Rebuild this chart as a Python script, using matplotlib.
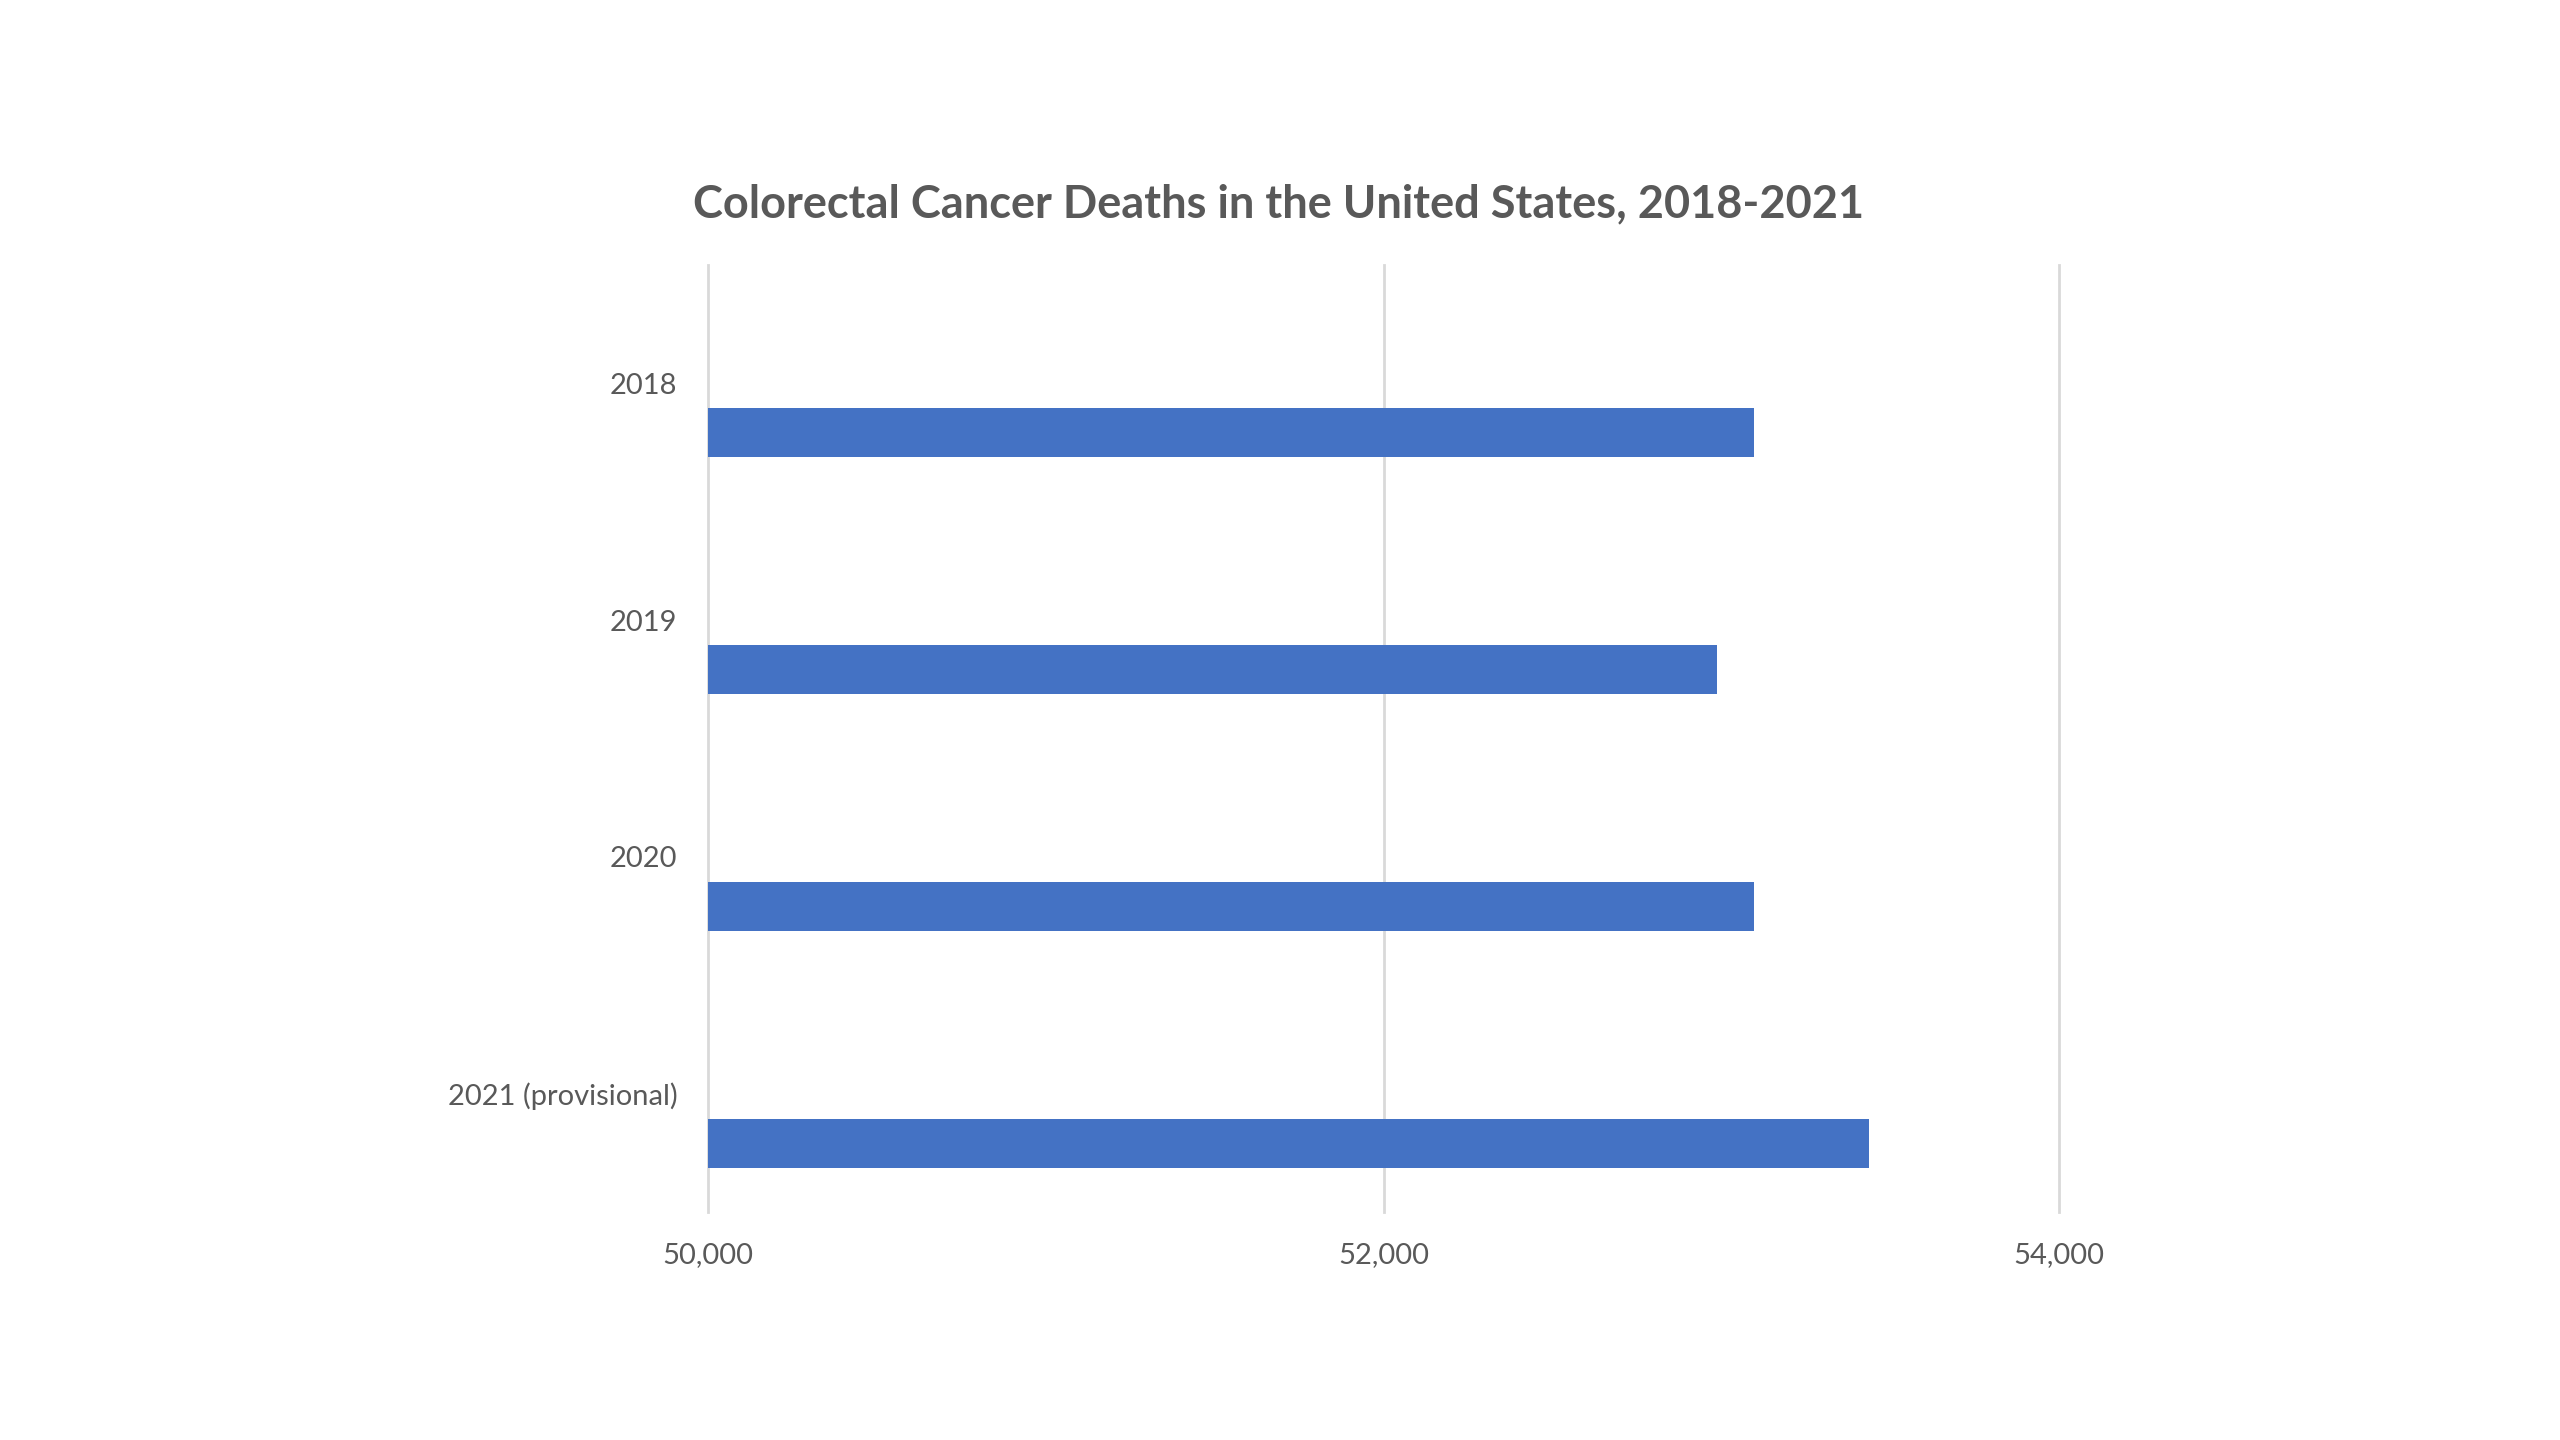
import matplotlib.pyplot as plt
import numpy as np

years = ['2018', '2019', '2020', '2021 (provisional)']
deaths = [53097, 52986, 53097, 53437]
xticks = [50000, 52000, 54000]

plt.rcParams['font.family'] = ['Lato', 'DejaVu Sans']

fig = plt.figure(figsize=(25.6, 14.4), dpi=100)
ax = fig.add_axes([0.2766, 0.158, 0.5277, 0.6583])

pos = np.arange(len(years))
# bars sit below the category label (empty first series in the original)
ax.barh(pos + 0.21, np.array(deaths) - 50000, left=50000, height=0.207,
        color='#4472C4', zorder=3)

ax.set_xlim(50000, 54000)
ax.set_ylim(len(years) - 0.5, -0.5)
ax.set_xticks(xticks)
ax.set_xticklabels([f'{v:,}' for v in xticks])
ax.set_yticks(pos)
ax.set_yticklabels(years)
ax.tick_params(length=0, labelsize=21, colors='#595959')
ax.tick_params(axis='x', pad=21)
ax.tick_params(axis='y', pad=22)
ax.grid(axis='x', color='#d9d9d9', linewidth=2, zorder=0)
for g in ax.get_xgridlines():
    g.set_clip_on(False)
for s in ax.spines.values():
    s.set_visible(False)

fig.text(0.4996, 1 - 204 / 1440, 'Colorectal Cancer Deaths in the United States, 2018-2021',
         ha='center', va='center', fontsize=32.5, fontweight='bold', color='#595959')

fig.savefig('out.png', dpi=100)
